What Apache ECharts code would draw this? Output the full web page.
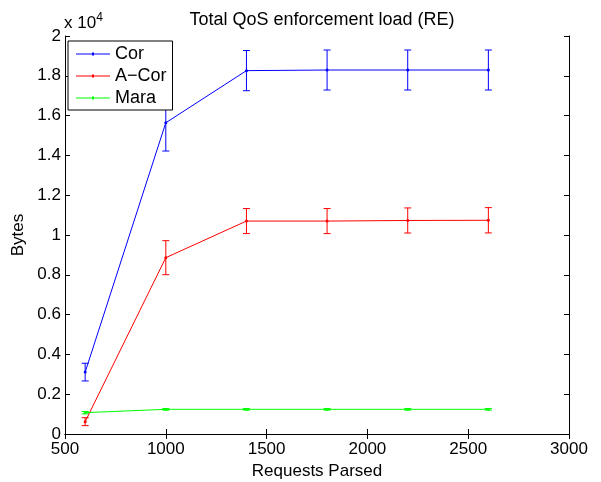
<!DOCTYPE html>
<html>
<head>
<meta charset="utf-8">
<script src="https://cdn.jsdelivr.net/npm/echarts@6/dist/echarts.min.js"></script>
<style>
  html, body { margin: 0; padding: 0; background: #fff; }
  #chart { width: 601px; height: 482px; }
</style>
</head>
<body>
<div id="chart"></div>
<script>
// Requests parsed (x positions)
const requests = [600, 1000, 1400, 1800, 2200, 2600];

// Mean enforcement load in bytes and half-width of the error bars
const corMean   = [3110, 15640, 18260, 18290, 18290, 18290];
const corErr    = [445, 1420, 1010, 1005, 1005, 1005];
const aCorMean  = [620, 8860, 10700, 10700, 10730, 10740];
const aCorErr   = [200, 855, 630, 630, 630, 635];
const maraMean  = [1072, 1240, 1240, 1240, 1240, 1240];
const maraErr   = [60, 40, 40, 40, 40, 40];

const seriesNames = ['Cor', 'A\u2212Cor', 'Mara'];
const seriesColors = ['#0000ff', '#ff0000', '#00ff00'];

const yScale = 10000;

const FONT = 'Liberation Sans, Arial, Helvetica, sans-serif';
const FS = 17;

function lineSeries(name, color, means) {
  return {
    name: name,
    type: 'line',
    data: requests.map((x, i) => [x, means[i]]),
    symbol: 'circle',
    symbolSize: 3,
    itemStyle: { color: color },
    lineStyle: { color: color, width: 1 },
    emphasis: { disabled: true },
    z: 3
  };
}

function errorSeries(color, means, errs) {
  return {
    type: 'custom',
    data: requests.map((x, i) => [x, means[i] - errs[i], means[i] + errs[i]]),
    encode: { x: 0, y: [1, 2] },
    silent: true,
    z: 2,
    renderItem: function (params, api) {
      const x = api.value(0);
      const lo = api.coord([x, api.value(1)]);
      const hi = api.coord([x, api.value(2)]);
      const hw = 3.5;
      const style = { stroke: color, lineWidth: 1 };
      return {
        type: 'group',
        children: [
          { type: 'line', shape: { x1: lo[0], y1: lo[1], x2: hi[0], y2: hi[1] }, style: style },
          { type: 'line', shape: { x1: lo[0] - hw, y1: lo[1], x2: lo[0] + hw, y2: lo[1] }, style: style },
          { type: 'line', shape: { x1: hi[0] - hw, y1: hi[1], x2: hi[0] + hw, y2: hi[1] }, style: style }
        ]
      };
    }
  };
}

const axisCommon = {
  axisLine: { show: true, lineStyle: { color: '#000', width: 1 } },
  axisTick: { show: true, inside: true, length: 5, lineStyle: { color: '#000' } },
  splitLine: { show: false }
};

// Legend key: a thin line with a small dot in the middle
const legendIcon = 'path://M0,1 H34 V2 H0 Z M16,0 H18 V3 H16 Z';

const chart = echarts.init(document.getElementById('chart'), null, { renderer: 'canvas' });

chart.setOption({
  animation: false,
  backgroundColor: '#ffffff',
  textStyle: { fontFamily: FONT },
  title: {
    text: 'Total QoS enforcement load (RE)',
    left: 317,
    textAlign: 'center',
    top: 6,
    textStyle: { fontFamily: FONT, fontSize: 18, fontWeight: 'normal', color: '#000' }
  },
  grid: { left: 65, right: 32, top: 36, bottom: 48, outerBoundsMode: 'none' },
  legend: {
    data: seriesNames.map(n => ({ name: n, icon: legendIcon })),
    left: 68,
    top: 41,
    orient: 'vertical',
    itemWidth: 34,
    itemHeight: 3,
    itemGap: 4,
    padding: [4, 6, 3, 8],
    borderColor: '#000',
    borderWidth: 1,
    backgroundColor: '#fff',
    textStyle: { fontFamily: FONT, fontSize: 18, lineHeight: 18, color: '#000' },
    selectedMode: false
  },
  xAxis: [
    Object.assign({}, axisCommon, {
      type: 'value',
      min: 500,
      max: 3000,
      interval: 500,
      name: 'Requests Parsed',
      nameLocation: 'middle',
      nameGap: 25,
      nameTextStyle: { fontFamily: FONT, fontSize: FS, color: '#000' },
      axisLabel: {
        color: '#000', fontSize: FS, fontFamily: FONT, margin: 7,
        formatter: v => String(v)
      }
    }),
    Object.assign({}, axisCommon, {
      type: 'value',
      position: 'top',
      min: 500,
      max: 3000,
      interval: 500,
      axisLabel: { show: false }
    })
  ],
  yAxis: [
    Object.assign({}, axisCommon, {
      type: 'value',
      min: 0,
      max: 20000,
      interval: 2000,
      name: 'Bytes',
      nameLocation: 'middle',
      nameGap: 36,
      nameTextStyle: { fontFamily: FONT, fontSize: FS, color: '#000' },
      axisLabel: {
        color: '#000', fontSize: FS, fontFamily: FONT, margin: 4,
        formatter: v => String(Math.round(v / yScale * 10) / 10)
      }
    }),
    Object.assign({}, axisCommon, {
      type: 'value',
      position: 'right',
      min: 0,
      max: 20000,
      interval: 2000,
      axisLabel: { show: false }
    })
  ],
  graphic: [
    {
      type: 'text',
      left: 64,
      top: 12,
      style: {
        text: '{b|x 10}{s|4}',
        rich: {
          b: { fontFamily: FONT, fontSize: 17, fill: '#000', color: '#000' },
          s: { fontFamily: FONT, fontSize: 12, fill: '#000', color: '#000', verticalAlign: 'top', padding: [0, 0, 10, 0] }
        }
      }
    }
  ],
  series: [
    errorSeries(seriesColors[0], corMean, corErr),
    errorSeries(seriesColors[1], aCorMean, aCorErr),
    errorSeries(seriesColors[2], maraMean, maraErr),
    lineSeries(seriesNames[0], seriesColors[0], corMean),
    lineSeries(seriesNames[1], seriesColors[1], aCorMean),
    lineSeries(seriesNames[2], seriesColors[2], maraMean)
  ]
});
</script>
</body>
</html>
